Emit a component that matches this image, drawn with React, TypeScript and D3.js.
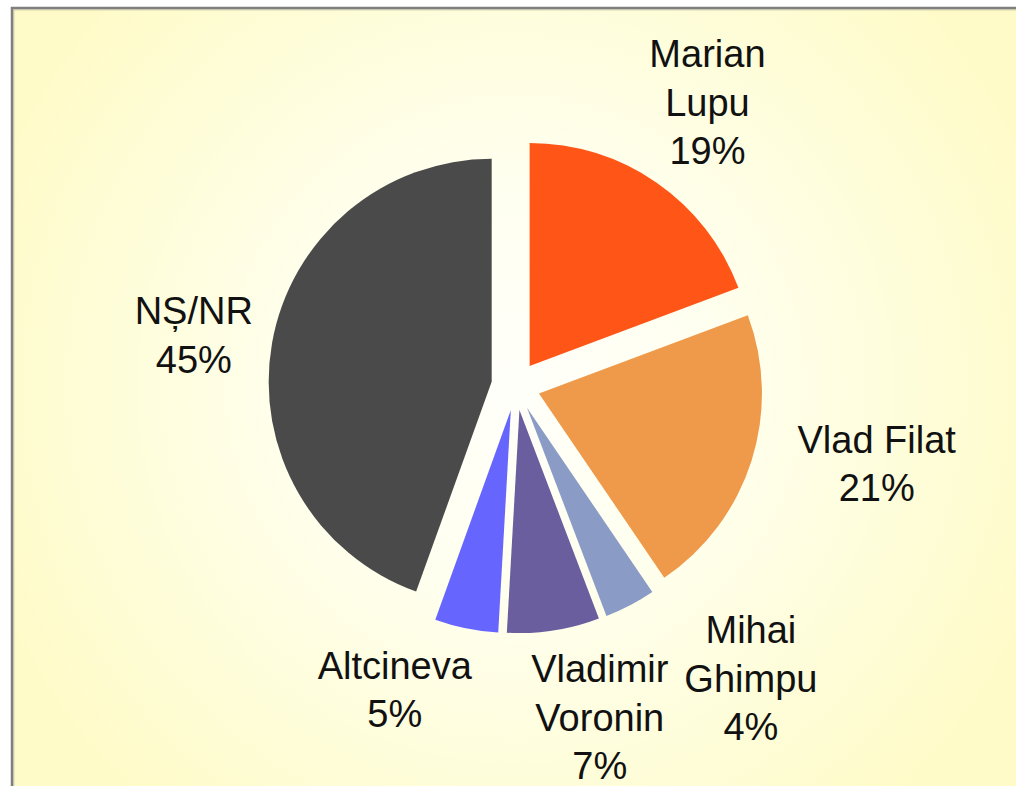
import React from "react";
import * as d3 from "d3";

const names: string[][] = [
  ["Marian", "Lupu"],
  ["Vlad Filat"],
  ["Mihai", "Ghimpu"],
  ["Vladimir", "Voronin"],
  ["Altcineva"],
  ["NȘ/NR"],
];
const values: number[] = [19.3, 21.2, 3.7, 6.7, 4.6, 44.5];
const percentLabels: string[] = ["19%", "21%", "4%", "7%", "5%", "45%"];
const colors: string[] = ["#FF5516", "#EE9A4A", "#8A9CC6", "#6B5E9E", "#6666FF", "#4A4A4A"];

// layout nudges for labels (relative to polar anchor)
const labelNudge: [number, number][] = [
  [-2, -4.5],
  [37, -25.5],
  [78, -9.5],
  [32, -5],
  [-53, -30],
  [13, 7.5],
];

const W = 1016;
const H = 786;
const CX = 515.7;
const CY = 386;
const R = 223;
const EXPLODE = 24.4;
const LABEL_R = 340;
const FONT = 38;
const LINE_H = 48.5;

export default function App() {
  const pie = d3.pie<number>().sort(null).value((d) => d);
  const arcs = pie(values);
  const arc = d3.arc<d3.PieArcDatum<number>>().innerRadius(0).outerRadius(R);

  return (
    <svg
      width={W}
      height={H}
      style={{ position: "absolute", left: 0, top: 0, display: "block" }}
      fontFamily="'Liberation Sans', Arial, sans-serif"
    >
      <defs>
        <radialGradient id="bg" gradientUnits="userSpaceOnUse" cx={CX} cy={CY} r={560}>
          <stop offset="0" stopColor="#FFFFFA" />
          <stop offset="0.35" stopColor="#FFFFF0" />
          <stop offset="0.7" stopColor="#FEFDDA" />
          <stop offset="1" stopColor="#FFFBC9" />
        </radialGradient>
      </defs>
      <rect x={0} y={0} width={W} height={H} fill="#FFFFFF" />
      <rect x={12} y={8} width={W + 20} height={H + 20} fill="url(#bg)" stroke="#7F7F7F" strokeWidth={2.5} />
      <rect x={13.8} y={9.8} width={W + 20} height={H + 20} fill="none" stroke="#BDBBA6" strokeWidth={1} />
      <g transform={`translate(${CX},${CY})`}>
        {arcs.map((a, i) => {
          const mid = (a.startAngle + a.endAngle) / 2;
          const dx = Math.sin(mid) * EXPLODE;
          const dy = -Math.cos(mid) * EXPLODE;
          return (
            <path key={i} d={arc(a) || ""} fill={colors[i]} transform={`translate(${dx},${dy})`} />
          );
        })}
        {arcs.map((a, i) => {
          const mid = (a.startAngle + a.endAngle) / 2;
          const x = Math.sin(mid) * LABEL_R + labelNudge[i][0];
          const y = -Math.cos(mid) * LABEL_R + labelNudge[i][1];
          const lines = [...names[i], percentLabels[i]];
          const n = lines.length;
          return (
            <text key={"t" + i} textAnchor="middle" fontSize={FONT} fill="#111">
              {lines.map((ln, j) => (
                <tspan key={j} x={x} y={y + (j - (n - 1) / 2) * LINE_H + FONT * 0.36}>
                  {ln}
                </tspan>
              ))}
            </text>
          );
        })}
      </g>
    </svg>
  );
}
